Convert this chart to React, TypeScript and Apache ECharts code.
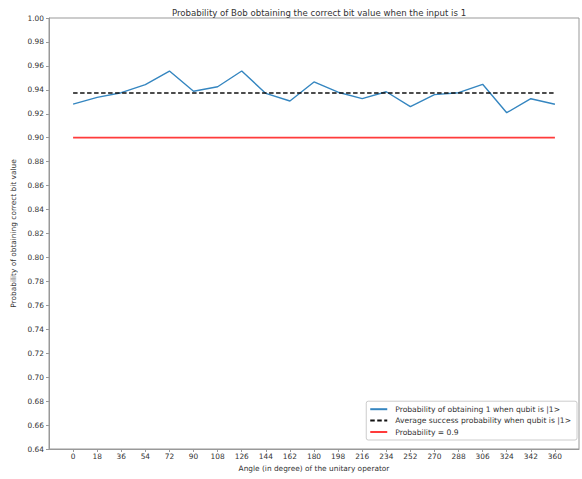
import React, { useEffect, useRef } from "react";
import * as echarts from "echarts";

const angles = [0, 18, 36, 54, 72, 90, 108, 126, 144, 162, 180, 198, 216, 234, 252, 270, 288, 306, 324, 342, 360];
const probOne = [0.928, 0.9337, 0.9376, 0.9443, 0.9557, 0.9388, 0.9426, 0.9557, 0.937, 0.9307, 0.9466, 0.938, 0.9326, 0.9384, 0.926, 0.936, 0.9376, 0.9446, 0.9209, 0.9326, 0.928];
const averageProb = 0.9374;
const threshold = 0.9;
const seriesNames = [
  "Probability of obtaining 1 when qubit is |1>",
  "Average success probability when qubit is |1>",
  "Probability = 0.9",
];
const titleText = "Probability of Bob obtaining the correct bit value when the input is 1";
const xName = "Angle (in degree) of the unitary operator";
const yName = "Probability of obtaining correct bit value";

export default function App() {
  const ref = useRef<HTMLDivElement>(null);
  useEffect(() => {
    if (!ref.current) return;
    const chart = echarts.init(ref.current, undefined, { renderer: "svg" });
    const font = "DejaVu Sans";
    const axisGray = "#999999";
    const txt = "#333";
    chart.setOption({
      animation: false,
      backgroundColor: "#fff",
      title: {
        text: titleText,
        left: 314,
        textAlign: "center",
        top: 3,
        textStyle: { fontFamily: font, fontSize: 8.6, fontWeight: "normal", color: txt },
      },
      grid: {
        left: 49,
        right: 3,
        top: 18,
        bottom: 30,
        show: true,
        borderColor: axisGray,
        borderWidth: 1,
        backgroundColor: "transparent",
      },
      legend: {
        orient: "vertical",
        right: 5,
        bottom: 39,
        padding: [4, 6, 4, 3],
        backgroundColor: "#fff",
        borderColor: "#cccccc",
        borderWidth: 1,
        borderRadius: 2,
        itemWidth: 17,
        itemHeight: 7,
        itemGap: 3.4,
        align: "left",
        itemStyle: { opacity: 0 },
        textStyle: { fontFamily: font, fontSize: 7.6, color: txt, padding: [0, 0, 0, 3] },
        data: seriesNames,
      },
      xAxis: {
        type: "value",
        min: -18,
        max: 378,
        interval: 18,
        name: xName,
        nameLocation: "middle",
        nameGap: 15,
        nameTextStyle: { fontFamily: font, fontSize: 7.4, color: txt },
        axisLine: { onZero: false, lineStyle: { color: axisGray, width: 1 } },
        axisTick: { show: true, length: 3, customValues: angles, lineStyle: { color: axisGray } },
        axisLabel: {
          customValues: angles,
          fontFamily: font,
          fontSize: 7.4,
          color: txt,
          margin: 4,
        },
        splitLine: { show: false },
      },
      yAxis: {
        type: "value",
        min: 0.64,
        max: 1.0,
        interval: 0.02,
        name: yName,
        nameLocation: "middle",
        nameGap: 27,
        nameTextStyle: { fontFamily: font, fontSize: 7.4, color: txt },
        axisLine: { show: true, onZero: false, lineStyle: { color: axisGray, width: 1 } },
        axisTick: { show: true, length: 3, lineStyle: { color: axisGray } },
        axisLabel: {
          fontFamily: font,
          fontSize: 7.4,
          color: txt,
          margin: 5,
          formatter: (v: number) => v.toFixed(2),
        },
        splitLine: { show: false },
      },
      series: [
        {
          name: seriesNames[0],
          type: "line",
          data: angles.map((a, i) => [a, probOne[i]]),
          symbol: "none",
          lineStyle: { color: "#3586c0", width: 1.4 },
          itemStyle: { color: "#3586c0" },
        },
        {
          name: seriesNames[1],
          type: "line",
          data: angles.map((a) => [a, averageProb]),
          symbol: "none",
          lineStyle: { color: "#111", width: 1.4, type: [4.5, 2.5] },
          itemStyle: { color: "#111" },
        },
        {
          name: seriesNames[2],
          type: "line",
          data: angles.map((a) => [a, threshold]),
          symbol: "none",
          lineStyle: { color: "#ff3b3b", width: 1.7 },
          itemStyle: { color: "#ff3b3b" },
        },
      ],
    });
    return () => chart.dispose();
  }, []);
  return (
    <div
      ref={ref}
      style={{ position: "fixed", left: 0, top: 0, width: 582, height: 479, background: "#fff" }}
    />
  );
}
